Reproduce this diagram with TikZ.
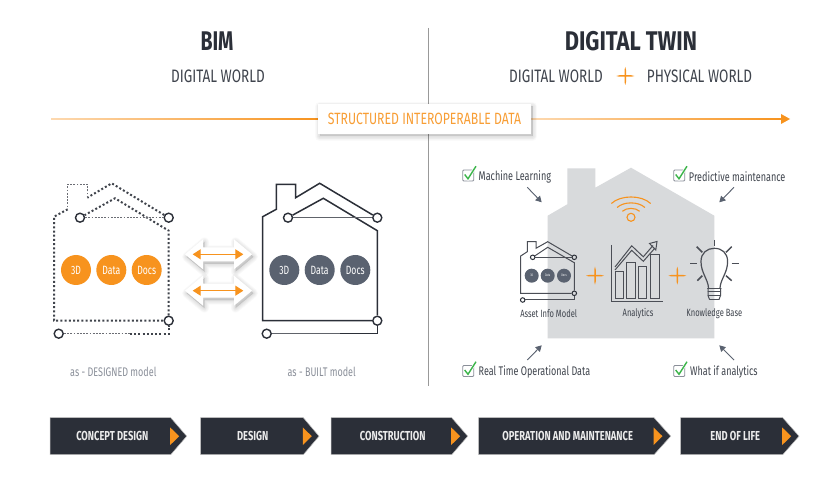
\documentclass[tikz,border=0pt]{standalone}
\usepackage{fontspec}
\usetikzlibrary{arrows.meta,calc}
\newfontfamily\fnreg[FakeStretch=0.72]{Fira Sans}
\newfontfamily\fnhead[FakeStretch=0.75]{Fira Sans}
\newfontfamily\fntitle[FakeStretch=0.81]{Fira Sans}
\newcommand{\fnbold}{\fnreg\bfseries}
\newcommand{\fsz}[1]{\fontsize{#1}{#1}\selectfont}
\definecolor{ora}{HTML}{F7931E}
\definecolor{oral}{HTML}{FDD9B0}
\definecolor{dark}{HTML}{2B2F38}
\definecolor{slate}{HTML}{5A6270}
\definecolor{ink}{HTML}{3F444D}
\definecolor{capgray}{HTML}{8A8F99}
\definecolor{hgray}{HTML}{D8DADC}
\definecolor{grn}{HTML}{3CB54A}
\tikzset{
  txt/.style={inner sep=0pt,font=\fnreg\fsz{#1}},
  headtxt/.style={inner sep=0pt,text=ink,font=\fnhead\fsz{18}},
  ring/.style={circle,draw=dark,line width=1.4pt,inner sep=0pt,minimum size=#1,fill=none},
  blob/.style={circle,fill=#1,inner sep=0pt,minimum size=30pt,text=white,font=\fnreg\fsz{12}},
  miniblob/.style={circle,fill=slate,inner sep=0pt,minimum size=14pt,text=white,font=\fnreg\fsz{3.5}},
  wall/.style={draw=dark,line width=1.5pt,line join=miter},
  thin wall/.style={draw=dark!75,line width=.8pt},
  dwall/.style={draw=dark!90,line width=2pt,dash pattern=on 2pt off 2.2pt},
  dthin/.style={draw=dark!70,line width=.8pt,dash pattern=on 1.8pt off 1.4pt},
  small arrow/.style={draw=slate,fill=slate,line width=.9pt,-{Triangle[length=6pt,width=6.5pt]}},
  chev/.style={fill=dark,draw=black!25,line width=.5pt},
  chevtri/.style={fill=ora},
  chevtxt/.style={inner sep=0pt,text=white!92!black,font=\fnbold\fsz{13}},
  icon/.style={draw=dark!85,line width=1pt},
}
\newcommand{\softshadow}[1]{%
  \foreach \w in {9,7.5,6,4.5,3,1.5}{
    \path[draw=black,fill=black,opacity=.018,line width=\w pt,line join=round,shift={(1.5,2.5)}] #1;
  }}
\newcommand{\chk}[2]{%
  \begin{scope}[shift={(#1,#2)}]
    \draw[capgray,line width=.8pt,rounded corners=1pt] (-5.5,-5.5) rectangle (5.5,5.5);
    \draw[white,line width=2.6pt] (-3.6,-1) -- (-.3,3.3) -- (7.7,-9.3);
    \draw[grn,line width=1.4pt] (-3.6,-1) -- (-.3,3.3) -- (7.7,-9.3);
  \end{scope}}
\newcommand{\plusm}[2]{%
  \fill[ora] (#1-9,#2) -- (#1-6,#2-.75) -- (#1-.75,#2-.75) -- (#1-.75,#2-6) -- (#1,#2-9) -- (#1+.75,#2-6) -- (#1+.75,#2-.75) -- (#1+6,#2-.75) -- (#1+9,#2) -- (#1+6,#2+.75) -- (#1+.75,#2+.75) -- (#1+.75,#2+6) -- (#1,#2+9) -- (#1-.75,#2+6) -- (#1-.75,#2+.75) -- (#1-6,#2+.75) -- cycle;}
\newcommand{\dblarrow}[1]{%
  \begin{scope}[shift={(0,#1)}]
    \def\shp{(185,0) -- (203,-15) -- (203,-7) -- (234,-7) -- (234,-15) -- (252,0) -- (234,15) -- (234,7) -- (203,7) -- (203,15) -- cycle}
    \softshadow{\shp}
    \fill[white] \shp;
    \draw[draw=ora,fill=ora,line width=1pt,{Triangle[length=8pt,width=10pt]}-{Triangle[length=8pt,width=10pt]}] (192.7,0) -- (243.3,0);
  \end{scope}}
\begin{document}
\begin{tikzpicture}[x=1pt,y=-1pt]
\useasboundingbox[fill=white] (0,0) rectangle (836,478);

% ---- headers
\draw[draw=black!40,line width=1pt] (428.5,28) -- (428.5,386);
\node[inner sep=0pt,text=dark,font=\fnbold\fsz{27}] (bim) at (217,41) {BIM};
\node[headtxt] (dw) at (218,76) {DIGITAL WORLD};
\node[inner sep=0pt,text=dark,font=\fntitle\bfseries\fsz{27}] (dt) at (631,41) {DIGITAL TWIN};
\node[headtxt] (dw2) at (556,76) {DIGITAL WORLD};
\plusm{625.3}{76}
\node[headtxt] (pw) at (699.5,76) {PHYSICAL WORLD};

% ---- data timeline
\shade[left color=oral,right color=ora] (51,118.4) rectangle (318,119.6);
\shade[left color=oral,right color=ora] (531,118.4) rectangle (782,119.6);
\fill[ora] (781,114) -- (790,119) -- (781,124) -- cycle;
\softshadow{(318,104) rectangle (531,134)}
\node[fill=white,minimum width=213pt,minimum height=30pt,inner sep=0pt] (dbox) at (424.5,119) {};
\node[inner sep=0pt,text=ora!90!white,font=\fnhead\fsz{16.3}] at (dbox.center) {STRUCTURED INTEROPERABLE DATA};

% ---- designed house
\node[ring=9pt] (a1) at (80,217.7) {};
\node[ring=9pt] (a2) at (168.7,217.7) {};
\node[ring=9pt] (a3) at (168.7,320.7) {};
\node[ring=9pt] (a4) at (58.7,333.7) {};
\draw[dwall] (a3) -- (168.7,230.7) -- (115,198.3) -- (a1);
\draw[dwall] (a2) -- (111.7,183.3) -- (87.3,197.7);
\draw[dwall] (67.7,209.3) -- (54,216.7) -- (54,320.7) -- (a3);
\draw[dthin] (87.3,197.7) -- (87.3,184.3) -- (67.7,184.3) -- (67.7,209.3);
\draw[dthin] (a1) -- (a2);
\draw[dthin] (a4) -- (130,333.7);
\draw[dwall] (130,333.7) -- (168.7,333.7) -- (a3);
\node[blob=ora] (d1) at (76,270) {3D};
\node[blob=ora] (d2) at (111.3,270) {Data};
\node[blob=ora] (d3) at (146.7,270) {Docs};
\node[txt=12.5,text=capgray] (c1) at (113.3,372) {as - DESIGNED model};

% ---- exchange arrows
\dblarrow{254.3}
\dblarrow{290.7}

% ---- built house
\node[ring=9pt] (b1) at (288,217.7) {};
\node[ring=9pt] (b2) at (377.3,217.7) {};
\node[ring=9pt] (b3) at (377.3,320.7) {};
\node[ring=9pt] (b4) at (266.7,333.7) {};
\draw[wall] (b3) -- (377.3,230.7) -- (323.3,198.3) -- (b1);
\draw[wall] (b2) -- (319.7,183.3) -- (295.7,197.7) -- (295.7,184.3) -- (276.3,184.3) -- (276.3,209.3) -- (262.7,216.7) -- (262.7,320.7) -- (b3);
\draw[thin wall] (b1) -- (b2);
\draw[thin wall] (b4) -- (340,333.7);
\draw[wall] (340,333.7) -- (377.3,333.7) -- (b3);
\node[blob=slate] (e1) at (284.3,270) {3D};
\node[blob=slate] (e2) at (319.7,270) {Data};
\node[blob=slate] (e3) at (355.3,270) {Docs};
\node[txt=12.5,text=capgray] (c2) at (321.7,372) {as - BUILT model};

% ---- twin house
\fill[hgray] (547.7,338.3) -- (714.3,338.3) -- (714.3,215.7) -- (631,167.7) -- (595.3,187.7) -- (595.3,168.3) -- (567.3,168.3) -- (567.3,204.3) -- (547.7,215.7) -- cycle;

% wifi
\node[circle,draw=ora,line width=1.1pt,minimum size=8pt,inner sep=0pt] (wf) at (631,217.3) {};
\foreach \r in {10.5,17,24}{
  \draw[draw=ora,line width=1.1pt] ($(631,217.3)+({\r*cos(145)},{-\r*sin(145)})$) .. controls ($(631,217.3)+({\r*cos(115)/cos(15)},{-\r*sin(115)/cos(15)})$) and ($(631,217.3)+({\r*cos(65)/cos(15)},{-\r*sin(65)/cos(15)})$) .. ($(631,217.3)+({\r*cos(35)},{-\r*sin(35)})$);
}

% feature labels
\chk{468.3}{175.5}
\chk{679.3}{175.5}
\chk{468.3}{371}
\chk{679.3}{371}
\node[txt=12.6,text=ink,anchor=west] (f1) at (478.5,176.5) {Machine Learning};
\node[txt=12.6,text=ink,anchor=west] (f2) at (688.7,176.5) {Predictive maintenance};
\node[txt=12.5,text=ink,anchor=west] (f3) at (478.5,372) {Real Time Operational Data};
\node[txt=12.5,text=ink,anchor=west] (f4) at (690,372) {What if analytics};
\coordinate (t1) at (541.7,202.3);
\coordinate (t2) at (719.3,202.3);
\coordinate (t3) at (541.7,345.3);
\coordinate (t4) at (719.3,345.3);
\draw[small arrow] (527.3,187.3) -- (t1);
\draw[small arrow] (734,187.3) -- (t2);
\draw[small arrow] (527.3,360) -- (t3);
\draw[small arrow] (734,360) -- (t4);

% mini house
\node[ring=4.5pt,line width=1pt] (m1) at (532.7,257.3) {};
\node[ring=4.5pt,line width=1pt] (m2) at (574.3,257.3) {};
\node[ring=4.5pt,line width=1pt] (m3) at (574.3,293.3) {};
\node[ring=4.5pt,line width=1pt] (m4) at (522.7,300) {};
\begin{scope}[line width=1pt]
\draw[draw=dark!85] (m3) -- (574.3,262.7) -- (547.7,247.3) -- (m1);
\draw[draw=dark!85] (m2) -- (547.7,241.7) -- (536,248.3) -- (536,241.7) -- (527.3,241.7) -- (527.3,251.7) -- (520.7,256) -- (520.7,293.3) -- (m3);
\draw[draw=dark!85,line width=.5pt] (m1) -- (m2);
\draw[draw=dark!85] (m4) -- (574.3,300) -- (m3);
\end{scope}
\node[miniblob] (n1) at (531.7,275.7) {3D};
\node[miniblob] (n2) at (547.7,275.7) {Data};
\node[miniblob] (n3) at (564,275.7) {Docs};
\node[txt=10.5,text=ink] (l1) at (548.7,313.7) {Asset Info Model};
\plusm{595}{275.7}

% analytics icon
\draw[icon] (611.3,245) -- (611.3,301.5) -- (663.3,301.5);
\draw[icon] (615,298.5) -- (615,271.7) -- (623.3,271.7) -- (623.3,298.5) -- cycle;
\draw[icon] (626.7,298.5) -- (626.7,262.3) -- (635,262.3) -- (635,298.5) -- cycle;
\draw[icon] (638.3,298.5) -- (638.3,266.7) -- (646.7,266.7) -- (646.7,298.5) -- cycle;
\draw[icon] (650,298.5) -- (650,255) -- (659,255) -- (659,298.5) -- cycle;
\draw[icon] (615,267) -- (631.7,245.8) -- (643.3,256.8) -- (653,245.5);
\draw[icon] (615,270) -- (631.7,250.3) -- (643.3,261.3) -- (655,248);
\draw[icon] (649.5,243.5) -- (657,241.5) -- (655.8,250) -- cycle;
\node[txt=10.5,text=ink] (l2) at (638,313.7) {Analytics};
\plusm{677.3}{275.7}

% bulb icon
\draw[icon,line width=1.2pt] (708.5,288) .. controls (708,279) and (701,273) .. (701,261.5) .. controls (701,253) and (707,248.3) .. (714.3,248.3) .. controls (722,248.3) and (727.6,253) .. (727.6,261.5) .. controls (727.6,273) and (720.5,279) .. (720,288);
\draw[icon,line cap=round] (707.5,288.5) -- (721,288.5);
\draw[icon,line cap=round] (708,292) -- (720.5,292);
\draw[icon,line cap=round] (708,295.5) -- (720.5,295.5);
\draw[icon,line cap=round] (709.5,299.5) -- (719,299.5);
\draw[icon] (708,288.5) -- (708,295.5) -- (709.5,299.5);
\draw[icon] (720.5,288.5) -- (720.5,295.5) -- (719,299.5);
\draw[icon,line width=1.5pt] (714.3,240) -- (714.3,246);
\draw[icon,line width=1.5pt] (696.7,246.7) -- (702.3,252.3);
\draw[icon,line width=1.5pt] (690,263.3) -- (697.3,263.3);
\draw[icon,line width=1.5pt] (697.3,280.7) -- (702.3,275.7);
\draw[icon,line width=1.5pt] (726,252.3) -- (731.7,246.7);
\draw[icon,line width=1.5pt] (731.7,263.3) -- (739,263.3);
\draw[icon,line width=1.5pt] (726,275.7) -- (731.7,280.7);
\node[txt=10.5,text=ink] (l3) at (714.3,313.7) {Knowledge Base};

% ---- phases
\newcommand{\phase}[6]{%
  \draw[chev] (#2,417.7) -- (#3,417.7) -- (#4,436.2) -- (#3,454.7) -- (#2,454.7) -- cycle;
  \fill[chevtri] (#3-.5,427.5) -- (#3+8.5,436.2) -- (#3-.5,445) -- cycle;
  \node[chevtxt] (#1) at (#5,436) {#6};}
\phase{p1}{50}{170.7}{186.7}{112.3}{CONCEPT DESIGN}
\phase{p2}{200.7}{303.3}{319}{252.7}{DESIGN}
\phase{p3}{331}{451.7}{467.7}{392.7}{CONSTRUCTION}
\phase{p4}{478.7}{654}{670.7}{567.7}{OPERATION AND MAINTENANCE}
\phase{p5}{680.7}{782.7}{799}{735.3}{END OF LIFE}
\end{tikzpicture}
\end{document}
